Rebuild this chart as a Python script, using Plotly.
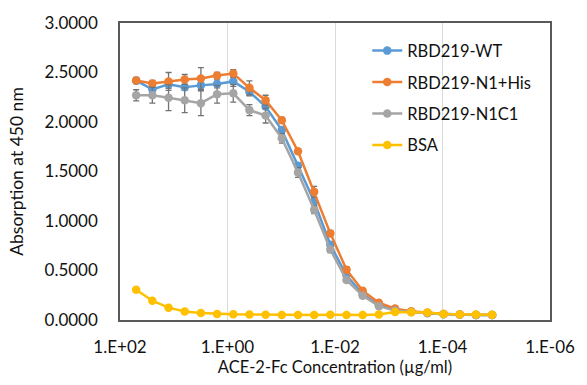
import plotly.graph_objects as go

# Concentrations: 2-fold serial dilution from 50 ug/ml
conc = [50 / 2**i for i in range(23)]

wt = [2.417, 2.33, 2.38, 2.35, 2.37, 2.385, 2.41, 2.305, 2.157, 1.918, 1.557, 1.197, 0.76, 0.452,
      0.26, 0.15, 0.10, 0.08, 0.07, 0.06, 0.055, 0.05, 0.05]
wt_err = [0.03, 0.03, 0.04, 0.03, 0.05, 0.04, 0.05, 0.04, 0.03, 0.03, 0.03, 0.04, 0.03, 0.02,
          0.02, 0.01, 0.01, 0.01, 0.01, 0.01, 0.01, 0.01, 0.01]

n1his = [2.42, 2.39, 2.41, 2.43, 2.44, 2.47, 2.49, 2.345, 2.22, 2.017, 1.705, 1.295, 0.875, 0.508,
         0.295, 0.174, 0.115, 0.089, 0.072, 0.06, 0.055, 0.05, 0.05]
n1his_err = [0.03, 0.03, 0.09, 0.05, 0.11, 0.03, 0.04, 0.07, 0.05, 0.03, 0.02, 0.055, 0.03, 0.03,
             0.02, 0.01, 0.01, 0.01, 0.01, 0.01, 0.01, 0.01, 0.01]

n1c1 = [2.27, 2.27, 2.245, 2.22, 2.19, 2.28, 2.29, 2.12, 2.065, 1.836, 1.49, 1.114, 0.711, 0.403,
        0.246, 0.14, 0.095, 0.08, 0.068, 0.058, 0.052, 0.05, 0.05]
n1c1_err = [0.056, 0.08, 0.13, 0.125, 0.125, 0.09, 0.09, 0.055, 0.075, 0.05, 0.05, 0.04, 0.03, 0.02,
            0.02, 0.01, 0.01, 0.01, 0.01, 0.01, 0.01, 0.01, 0.01]

bsa = [0.305, 0.195, 0.125, 0.085, 0.07, 0.06, 0.057, 0.055, 0.052, 0.05, 0.05, 0.05, 0.052, 0.05,
       0.05, 0.055, 0.08, 0.078, 0.075, 0.06, 0.055, 0.055, 0.052]

names = ["RBD219-WT", "RBD219-N1+His", "RBD219-N1C1", "BSA"]
colors = ["#5B9BD5", "#ED7D31", "#A5A5A5", "#FFC000"]
series = [wt, n1his, n1c1, bsa]
errors = [wt_err, n1his_err, n1c1_err, None]

xtick_vals = [1e2, 1e0, 1e-2, 1e-4, 1e-6]
xtick_text = ["1.E+02", "1.E+00", "1.E-02", "1.E-04", "1.E-06"]
ytick_vals = [0, 0.5, 1.0, 1.5, 2.0, 2.5, 3.0]

FONT = "Lato"
TXT = "#111111"

fig = go.Figure()
for name, col, ys, err in zip(names, colors, series, errors):
    kw = {}
    if err is not None:
        kw["error_y"] = dict(type="data", array=err, visible=True, color="#737373",
                             thickness=1.3, width=3)
    fig.add_trace(go.Scatter(
        x=conc, y=ys, name=name, mode="lines+markers", legendgroup=name,
        line=dict(color=col, width=2.5),
        marker=dict(color=col, size=8.5, symbol="circle"),
        **kw))

fig.update_layout(
    width=587, height=385,
    margin=dict(l=120, r=28, t=15, b=65),
    paper_bgcolor="white", plot_bgcolor="white",
    font=dict(family=FONT, size=16, color=TXT),
    showlegend=True,
    legend=dict(x=0.575, y=0.965, xanchor="left", yanchor="top",
                font=dict(family=FONT, size=16.5, color=TXT),
                tracegroupgap=7, bgcolor="rgba(0,0,0,0)"),
)
fig.update_xaxes(
    type="log", range=[2, -6],
    tickvals=xtick_vals, ticktext=xtick_text,
    showgrid=True, gridcolor="#D9D9D9", gridwidth=1,
    showline=True, linecolor="#595959", linewidth=1.5, mirror=True,
    ticks="", ticklabelstandoff=11,
    title=dict(text="ACE-2-Fc Concentration (µg/ml)", standoff=3,
               font=dict(family=FONT, size=16.5, color=TXT)),
    tickfont=dict(family=FONT, size=17, color=TXT),
    zeroline=False,
)
fig.update_yaxes(
    range=[0, 3], tickvals=ytick_vals, tickformat=".4f",
    showgrid=False,
    showline=True, linecolor="#595959", linewidth=1.5, mirror=True,
    ticks="", ticklabelstandoff=17,
    title=dict(text="Absorption at 450 nm", standoff=16,
               font=dict(family=FONT, size=17.5, color=TXT)),
    tickfont=dict(family=FONT, size=17, color=TXT),
    zeroline=False,
)

fig.write_html("out.html")
